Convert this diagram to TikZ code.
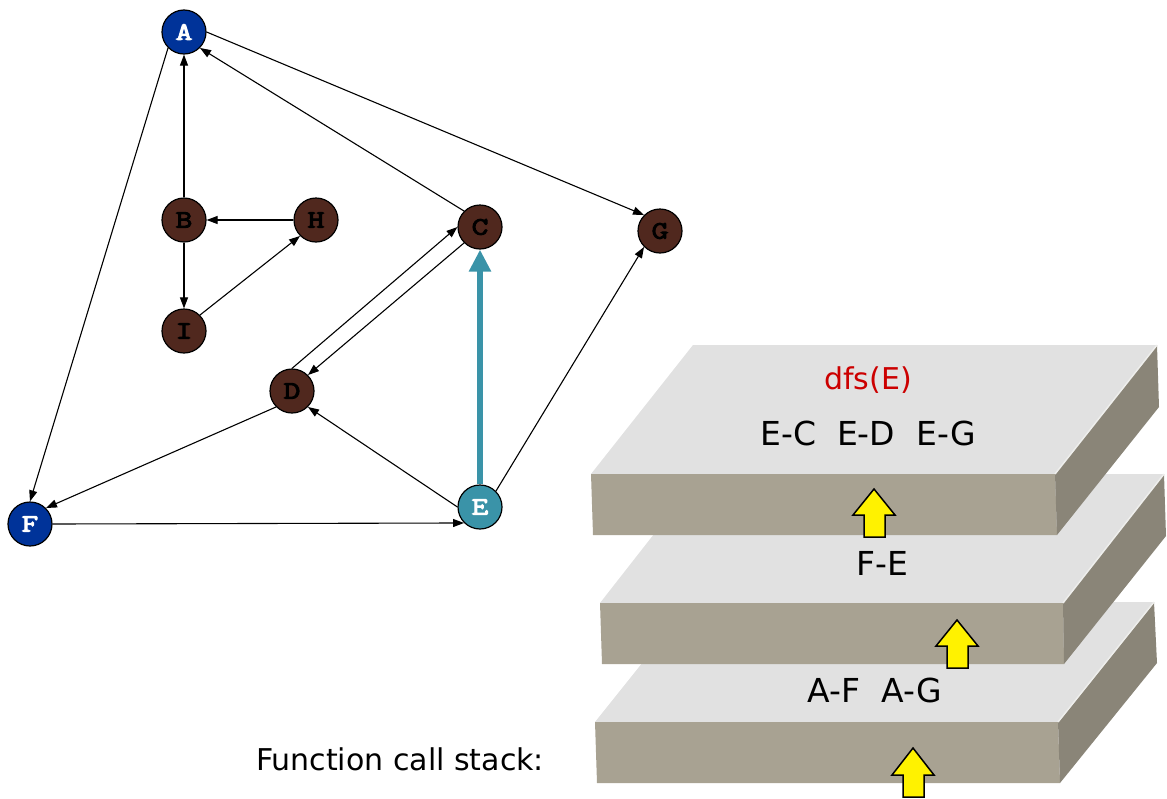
\documentclass[tikz,border=0pt]{standalone}
\usepackage{fontspec}
\setmainfont{DejaVu Sans}
\newfontfamily\monofnt[FakeBold=4,FakeStretch=1.3]{Latin Modern Mono}
\usetikzlibrary{arrows.meta}
\definecolor{nodeblue}{RGB}{0,51,153}
\definecolor{nodebrown}{RGB}{80,40,30}
\definecolor{nodeteal}{RGB}{58,147,168}
\definecolor{slabtop}{RGB}{225,225,225}
\definecolor{slabfront}{RGB}{168,162,146}
\definecolor{slabside}{RGB}{138,133,120}
\definecolor{slabedge}{RGB}{238,238,236}
\definecolor{callred}{RGB}{204,0,0}

\begin{document}
\begin{tikzpicture}[x=1pt,y=-1pt,
  vertex/.style={circle,draw=black,line width=1.2pt,minimum size=44pt,inner sep=0pt,
                 font=\monofnt\fontsize{25}{25}\selectfont},
  bluev/.style={vertex,fill=nodeblue,text=white},
  brownv/.style={vertex,fill=nodebrown,text=black},
  tealv/.style={vertex,fill=nodeteal,text=white},
  edge/.style={line width=1.1pt,-{Triangle[length=11pt,width=8pt]}},
  visit/.style={draw=nodeteal,line width=6pt,-{Triangle[length=22pt,width=21pt]}},
  stacktext/.style={font=\fontsize{33}{33}\selectfont},
  calltext/.style={font=\fontsize{30}{30}\selectfont},
  upblock/.style={fill=yellow,draw=black,line width=1.5pt,line join=miter}
]
\useasboundingbox (0,0) rectangle (1167,798);

% ---------- graph ----------
\node[bluev]  (A) at (184,32)  {A};
\node[brownv] (B) at (184,220) {B};
\node[brownv] (H) at (316,220) {H};
\node[brownv] (I) at (184,331) {I};
\node[brownv] (C) at (480,227) {C};
\node[brownv] (G) at (660,231) {G};
\node[brownv] (D) at (292,391) {D};
\node[tealv]  (E) at (480,507) {E};
\node[bluev]  (F) at (30,524)  {F};

\draw[edge] (A.0)   -- (G.135);
\draw[edge] (C.135) -- (A.315);
\draw[edge] (B.90)  -- (A.270);
\draw[edge] (A.225) -- (F.90);
\draw[edge] (H.180) -- (B.0);
\draw[edge] (B.270) -- (I.90);
\draw[edge] (I.45)  -- (H.225);
\draw[edge] (D.90)  -- (C.180);
\draw[edge] (C.225) -- (D.45);
\draw[edge] (E.180) -- (D.315);
\draw[edge] (D.225) -- (F.45);
\draw[edge] (F.0)   -- (E.225);
\draw[edge] (E.45)  -- (G.225);
\draw[visit] (E.90) -- (C.270);

% ---------- call stack slabs (bottom to top) ----------
% bottom slab
\fill[slabtop]   (595,722) -- (1058,722) -- (1154,602) -- (691,602) -- cycle;
\fill[slabfront] (595,722) -- (1058,722) -- (1060,783) -- (597,783) -- cycle;
\fill[slabside]  (1058,722) -- (1154,602) -- (1157,663) -- (1060,783) -- cycle;
\draw[slabedge,line width=1.5pt] (1058,722) -- (1154,602);
% middle slab
\fill[slabtop]   (600,603) -- (1063,603) -- (1164,474) -- (701,474) -- cycle;
\fill[slabfront] (600,603) -- (1063,603) -- (1064,664) -- (602,664) -- cycle;
\fill[slabside]  (1063,603) -- (1164,474) -- (1166,536) -- (1064,664) -- cycle;
\draw[slabedge,line width=1.5pt] (1063,603) -- (1164,474);
% top slab
\fill[slabtop]   (591,474) -- (1055,474) -- (1157,345) -- (693,345) -- cycle;
\fill[slabfront] (591,474) -- (1055,474) -- (1057,535) -- (593,535) -- cycle;
\fill[slabside]  (1055,474) -- (1157,345) -- (1159,407) -- (1057,535) -- cycle;
\draw[slabedge,line width=1.5pt] (1055,474) -- (1157,345);

% frame contents
\node[calltext,text=callred] (fname) at (868,380) {dfs(E)};
\node[stacktext] (ftop) at (868,433) {E-C\ \ E-D\ \ E-G};
\node[stacktext] (fmid) at (882,563) {F-E};
\node[stacktext] (fbot) at (875,690) {A-F\ \ A-G};
\node[calltext]  (label) at (400,759) {Function call stack:};

% return arrows
\draw[upblock] (874,489) -- (895,515) -- (885,515) -- (885,537) -- (864,537) -- (864,515) -- (853,515) -- cycle;
\draw[upblock] (957,620) -- (978,646) -- (968,646) -- (968,668) -- (947,668) -- (947,646) -- (936,646) -- cycle;
\draw[upblock] (913,748) -- (934,775) -- (924,775) -- (924,797) -- (903,797) -- (903,775) -- (892,775) -- cycle;
\end{tikzpicture}
\end{document}
